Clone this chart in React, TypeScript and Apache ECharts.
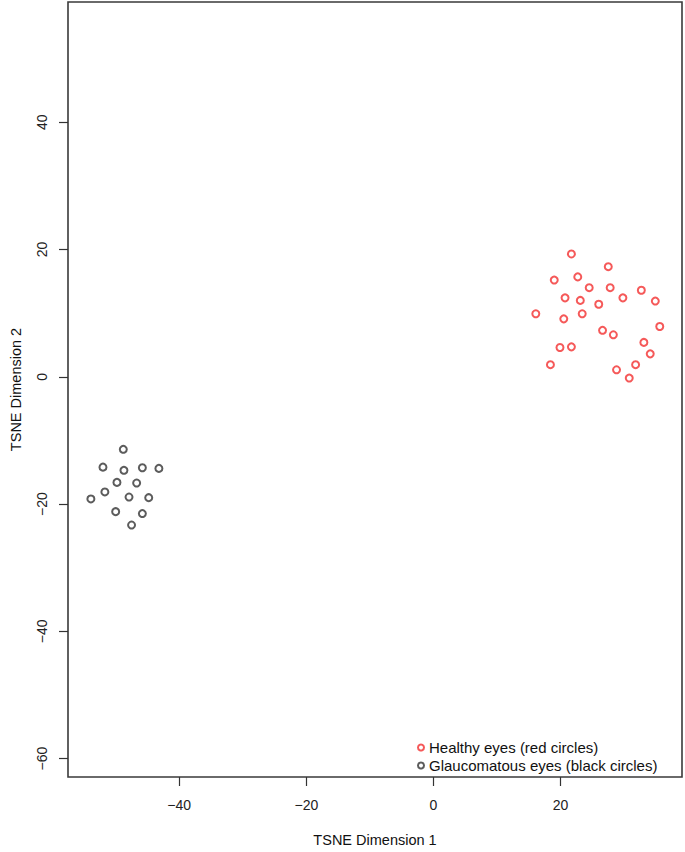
import React, { useEffect, useRef } from "react";
import * as echarts from "echarts";

const healthyX = [21.7, 27.5, 19.0, 22.7, 24.5, 27.8, 32.7, 20.7, 23.1, 29.8, 34.9, 26.0, 16.1, 20.5, 23.4, 35.6, 26.6, 28.3, 33.1, 19.9, 21.7, 34.1, 18.4, 31.8, 28.8, 30.8];
const healthyY = [19.3, 17.3, 15.2, 15.7, 14.0, 14.0, 13.6, 12.4, 12.0, 12.4, 11.9, 11.4, 9.9, 9.1, 9.9, 7.9, 7.3, 6.6, 5.4, 4.6, 4.7, 3.6, 1.9, 1.9, 1.1, -0.2];
const glaucX = [-48.8, -52.0, -48.7, -45.8, -43.2, -49.8, -46.7, -51.7, -53.9, -47.9, -44.8, -50.0, -45.8, -47.5];
const glaucY = [-11.4, -14.2, -14.7, -14.3, -14.4, -16.6, -16.7, -18.1, -19.2, -18.9, -19.0, -21.2, -21.5, -23.3];
const xTicks = [-40, -20, 0, 20];
const yTicks = [-60, -40, -20, 0, 20, 40];
const seriesNames = ["Healthy eyes (red circles)", "Glaucomatous eyes (black circles)"];

export default function App() {
  const ref = useRef<HTMLDivElement>(null);
  useEffect(() => {
    if (!ref.current) return;
    const chart = echarts.init(ref.current, null, { renderer: "svg" });
    const font = "'Liberation Sans', Arial, sans-serif";
    const fmt = (v: number) => String(v).replace("-", "\u2212");
    chart.setOption({
      animation: false,
      backgroundColor: "#ffffff",
      textStyle: { fontFamily: font },
      grid: {
        left: 62,
        top: 2,
        right: 3,
        bottom: 69,
        show: true,
        borderColor: "#3a3a3a",
        borderWidth: 1.6,
        backgroundColor: "transparent",
      },
      legend: {
        data: seriesNames.map((n) => ({ name: n, icon: "emptyCircle" })),
        orient: "vertical",
        left: 417,
        top: 740,
        itemWidth: 6,
        itemHeight: 6,
        itemGap: 3,
        padding: 0,
        textStyle: { fontSize: 15, color: "#111", fontFamily: font },
      },
      xAxis: {
        type: "value",
        min: -57.5,
        max: 39.1,
        name: "TSNE Dimension 1",
        nameLocation: "middle",
        nameGap: 55,
        nameTextStyle: { fontSize: 14.5, color: "#111", fontFamily: font },
        axisLine: { show: false, onZero: false },
        splitLine: { show: false },
        axisTick: { show: true, inside: false, length: 9, customValues: xTicks, lineStyle: { color: "#333", width: 1.2 } },
        axisLabel: { customValues: xTicks, margin: 21, fontSize: 14, color: "#222", fontFamily: font, formatter: fmt },
      },
      yAxis: {
        type: "value",
        min: -62.9,
        max: 58.9,
        name: "TSNE Dimension 2",
        nameLocation: "middle",
        nameGap: 45,
        nameTextStyle: { fontSize: 14.5, color: "#111", fontFamily: font },
        axisLine: { show: false, onZero: false },
        splitLine: { show: false },
        axisTick: { show: true, inside: false, length: 9, customValues: yTicks, lineStyle: { color: "#333", width: 1.2 } },
        axisLabel: { customValues: yTicks, rotate: 90, margin: 19, fontSize: 14, color: "#222", fontFamily: font, formatter: fmt },
      },
      series: [
        {
          name: seriesNames[0],
          type: "scatter",
          symbol: "emptyCircle",
          symbolSize: 7,
          itemStyle: { color: "#f23030", borderWidth: 1.5 },
          data: healthyX.map((x, i) => [x, healthyY[i]]),
        },
        {
          name: seriesNames[1],
          type: "scatter",
          symbol: "emptyCircle",
          symbolSize: 7,
          itemStyle: { color: "#333333", borderWidth: 1.5 },
          data: glaucX.map((x, i) => [x, glaucY[i]]),
        },
      ],
    });
    return () => chart.dispose();
  }, []);
  return <div ref={ref} style={{ position: "absolute", left: 0, top: 0, width: 685, height: 852 }} />;
}
